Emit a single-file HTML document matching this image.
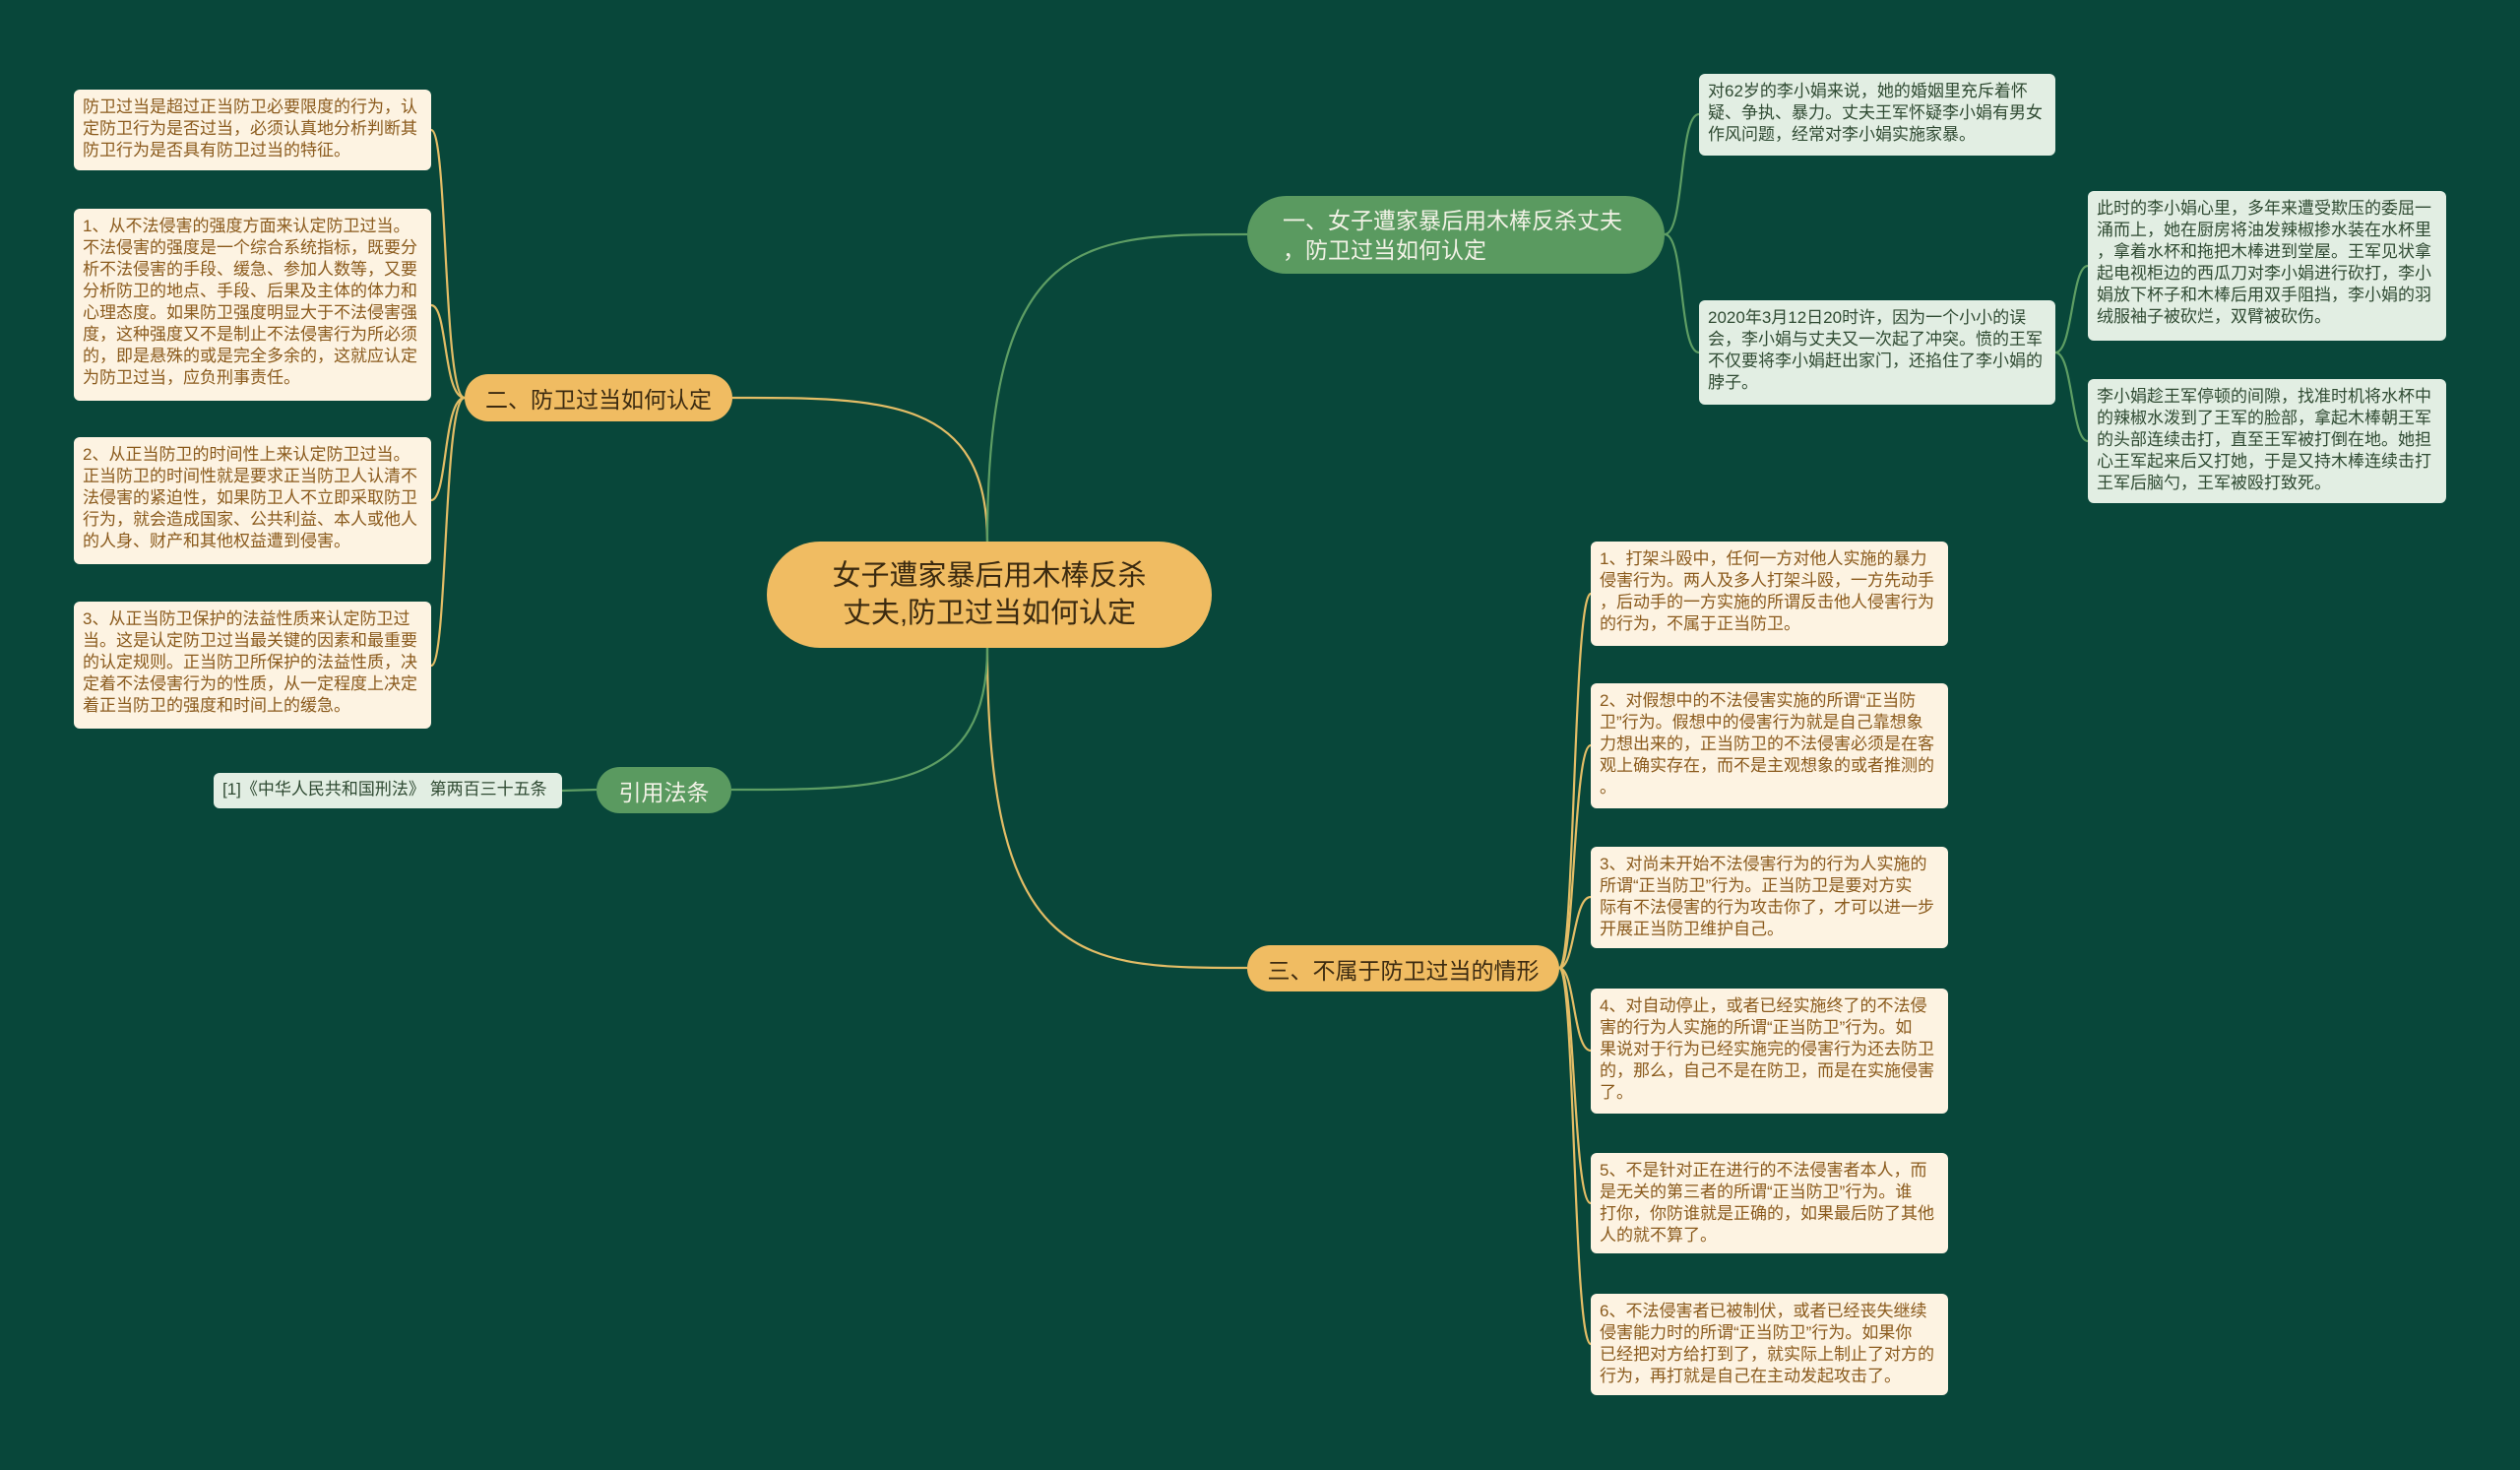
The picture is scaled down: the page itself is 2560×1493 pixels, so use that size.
<!DOCTYPE html>
<html><head><meta charset="utf-8"><style>
html,body{margin:0;padding:0}
body{width:2560px;height:1493px;background:#08473a;position:relative;overflow:hidden;font-family:"Liberation Sans","Noto Sans CJK SC",sans-serif}
.n{position:absolute;box-sizing:border-box;display:flex;align-items:center;justify-content:center;text-align:center}
.y{background:#f0bc62;color:#3b2a10;border-radius:30px;font-size:23px}
.g{background:#5a9a60;color:#f2f2e6;border-radius:40px;font-size:23px}
.l{position:absolute;box-sizing:border-box;border-radius:6px;padding:7px 9px;font-size:17px;line-height:22px;overflow:hidden}
.ly{background:#fdf3e2;color:#8a5a1c}
.lg{background:#e2eee3;color:#2f4a32}
svg{position:absolute;left:0;top:0}
</style></head><body>
<svg width="2560" height="1493" fill="none" stroke-width="2.2">
<g stroke="#e3bd66">
<path d="M1003 550 C1003 404,900 404,744 404"/>
<path d="M1003 658 C1003 983,1100 983,1267 983"/>
<path d="M472 404 C450 404,455 132,438 132"/>
<path d="M472 404 C450 404,455 310,438 310"/>
<path d="M472 404 C450 404,455 508,438 508"/>
<path d="M472 404 C450 404,455 676,438 676"/>
<path d="M1584 983 C1600 983,1598 603,1616 603"/>
<path d="M1584 983 C1600 983,1598 757,1616 757"/>
<path d="M1584 983 C1600 983,1598 911,1616 911"/>
<path d="M1584 983 C1600 983,1598 1067,1616 1067"/>
<path d="M1584 983 C1600 983,1598 1222,1616 1222"/>
<path d="M1584 983 C1600 983,1598 1365,1616 1365"/>
</g>
<g stroke="#5e9e64">
<path d="M1003 550 C1003 238,1100 238,1267 238"/>
<path d="M1003 658 C1003 802,900 802,743 802"/>
<path d="M606 802 L571 803"/>
<path d="M1691 238 C1712 238,1705 116,1726 116"/>
<path d="M1691 238 C1712 238,1705 358,1726 358"/>
<path d="M2088 358 C2106 358,2104 270,2121 270"/>
<path d="M2088 358 C2106 358,2104 448,2121 448"/>
</g>
</svg>

<div class="n y" style="left:779px;top:550px;width:452px;height:108px;border-radius:54px;font-size:29px;line-height:38px">女子遭家暴后用木棒反杀<br>丈夫,防卫过当如何认定</div>
<div class="n g" style="left:1267px;top:199px;width:424px;height:79px;font-size:23px;line-height:30px;text-align:left;justify-content:flex-start;padding-left:36px">一、女子遭家暴后用木棒反杀丈夫<br>，防卫过当如何认定</div>
<div class="n y" style="left:472px;top:380px;width:272px;height:48px">二、防卫过当如何认定</div>
<div class="n g" style="left:606px;top:779px;width:137px;height:47px">引用法条</div>
<div class="n y" style="left:1267px;top:960px;width:317px;height:47px">三、不属于防卫过当的情形</div>

<div class="l ly" style="left:75px;top:91px;width:363px;height:82px">防卫过当是超过正当防卫必要限度的行为，认<br>定防卫行为是否过当，必须认真地分析判断其<br>防卫行为是否具有防卫过当的特征。</div>
<div class="l ly" style="left:75px;top:212px;width:363px;height:195px">1、从不法侵害的强度方面来认定防卫过当。<br>不法侵害的强度是一个综合系统指标，既要分<br>析不法侵害的手段、缓急、参加人数等，又要<br>分析防卫的地点、手段、后果及主体的体力和<br>心理态度。如果防卫强度明显大于不法侵害强<br>度，这种强度又不是制止不法侵害行为所必须<br>的，即是悬殊的或是完全多余的，这就应认定<br>为防卫过当，应负刑事责任。</div>
<div class="l ly" style="left:75px;top:444px;width:363px;height:129px">2、从正当防卫的时间性上来认定防卫过当。<br>正当防卫的时间性就是要求正当防卫人认清不<br>法侵害的紧迫性，如果防卫人不立即采取防卫<br>行为，就会造成国家、公共利益、本人或他人<br>的人身、财产和其他权益遭到侵害。</div>
<div class="l ly" style="left:75px;top:611px;width:363px;height:129px">3、从正当防卫保护的法益性质来认定防卫过<br>当。这是认定防卫过当最关键的因素和最重要<br>的认定规则。正当防卫所保护的法益性质，决<br>定着不法侵害行为的性质，从一定程度上决定<br>着正当防卫的强度和时间上的缓急。</div>
<div class="l lg" style="left:217px;top:785px;width:354px;height:36px;padding-top:6px">[1]《中华人民共和国刑法》 第两百三十五条</div>

<div class="l lg" style="left:1726px;top:75px;width:362px;height:83px">对62岁的李小娟来说，她的婚姻里充斥着怀<br>疑、争执、暴力。丈夫王军怀疑李小娟有男女<br>作风问题，经常对李小娟实施家暴。</div>
<div class="l lg" style="left:1726px;top:305px;width:362px;height:106px">2020年3月12日20时许，因为一个小小的误<br>会，李小娟与丈夫又一次起了冲突。愤的王军<br>不仅要将李小娟赶出家门，还掐住了李小娟的<br>脖子。</div>
<div class="l lg" style="left:2121px;top:194px;width:364px;height:152px">此时的李小娟心里，多年来遭受欺压的委屈一<br>涌而上，她在厨房将油发辣椒掺水装在水杯里<br>，拿着水杯和拖把木棒进到堂屋。王军见状拿<br>起电视柜边的西瓜刀对李小娟进行砍打，李小<br>娟放下杯子和木棒后用双手阻挡，李小娟的羽<br>绒服袖子被砍烂，双臂被砍伤。</div>
<div class="l lg" style="left:2121px;top:385px;width:364px;height:126px">李小娟趁王军停顿的间隙，找准时机将水杯中<br>的辣椒水泼到了王军的脸部，拿起木棒朝王军<br>的头部连续击打，直至王军被打倒在地。她担<br>心王军起来后又打她，于是又持木棒连续击打<br>王军后脑勺，王军被殴打致死。</div>

<div class="l ly" style="left:1616px;top:550px;width:363px;height:106px">1、打架斗殴中，任何一方对他人实施的暴力<br>侵害行为。两人及多人打架斗殴，一方先动手<br>，后动手的一方实施的所谓反击他人侵害行为<br>的行为，不属于正当防卫。</div>
<div class="l ly" style="left:1616px;top:694px;width:363px;height:127px">2、对假想中的不法侵害实施的所谓“正当防<br>卫”行为。假想中的侵害行为就是自己靠想象<br>力想出来的，正当防卫的不法侵害必须是在客<br>观上确实存在，而不是主观想象的或者推测的<br>。</div>
<div class="l ly" style="left:1616px;top:860px;width:363px;height:103px">3、对尚未开始不法侵害行为的行为人实施的<br>所谓“正当防卫”行为。正当防卫是要对方实<br>际有不法侵害的行为攻击你了，才可以进一步<br>开展正当防卫维护自己。</div>
<div class="l ly" style="left:1616px;top:1004px;width:363px;height:127px">4、对自动停止，或者已经实施终了的不法侵<br>害的行为人实施的所谓“正当防卫”行为。如<br>果说对于行为已经实施完的侵害行为还去防卫<br>的，那么，自己不是在防卫，而是在实施侵害<br>了。</div>
<div class="l ly" style="left:1616px;top:1171px;width:363px;height:102px">5、不是针对正在进行的不法侵害者本人，而<br>是无关的第三者的所谓“正当防卫”行为。谁<br>打你，你防谁就是正确的，如果最后防了其他<br>人的就不算了。</div>
<div class="l ly" style="left:1616px;top:1314px;width:363px;height:103px">6、不法侵害者已被制伏，或者已经丧失继续<br>侵害能力时的所谓“正当防卫”行为。如果你<br>已经把对方给打到了，就实际上制止了对方的<br>行为，再打就是自己在主动发起攻击了。</div>
</body></html>
